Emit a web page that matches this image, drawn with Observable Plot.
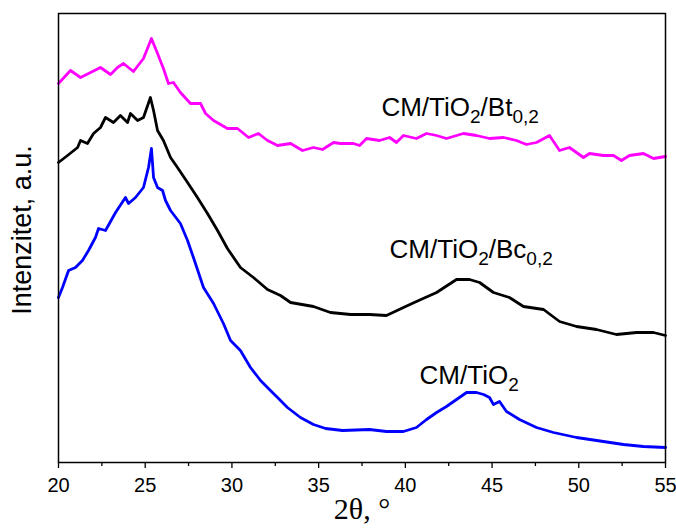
<!DOCTYPE html>
<html>
<head>
<meta charset="utf-8">
<script src="https://cdn.jsdelivr.net/npm/d3@7"></script>
<script src="https://cdn.jsdelivr.net/npm/@observablehq/plot@0.6"></script>
<style>
  html, body { margin: 0; padding: 0; background: #fff; }
  #chart svg { font-family: "Liberation Sans", Arial, sans-serif; }
</style>
</head>
<body>
<div id="chart"></div>
<script>
// ---- Data (2θ in degrees, intensity in arbitrary units) ----
const sampleNames  = ["CM/TiO2/Bt0,2", "CM/TiO2/Bc0,2", "CM/TiO2"];
const sampleColors = ["#ff00ff", "#000000", "#0000ff"];

const btAngle = [20.00,20.69,21.27,21.85,22.42,23.00,23.40,23.75,24.32,24.90,25.36,25.71,26.05,26.34,26.63,27.03,27.61,28.19,28.48,28.94,29.74,30.32,30.96,31.53,32.05,32.63,33.38,34.07,34.70,35.22,35.86,36.26,37.01,37.36,37.76,38.51,39.09,39.49,39.89,40.64,41.22,41.80,42.37,43.35,44.10,44.85,45.66,46.41,46.98,47.56,48.31,48.89,49.46,50.27,50.62,51.42,52.00,52.46,52.92,53.73,54.31,55.00];
const btIntensity = [379,392,385,390,395,388,395,399,391,404,424,409,394,379,380,370,359,359,349,342,334,334,325,329,322,317,319,312,315,313,320,319,319,317,324,322,325,320,327,324,329,327,324,329,327,324,325,322,318,320,327,312,315,305,309,307,307,302,307,309,304,306];

const bcAngle = [20.00,20.52,21.10,21.27,21.67,22.02,22.42,22.71,23.17,23.57,23.98,24.15,24.56,24.90,25.30,25.48,25.71,26.05,26.46,26.86,27.44,28.01,28.59,29.17,29.74,30.49,31.24,32.05,32.80,33.38,34.70,35.68,36.84,37.93,38.91,39.89,40.64,41.80,42.95,43.70,44.28,45.08,46.00,46.81,47.97,48.89,49.87,51.02,52.17,53.33,54.31,55.00];
const bcIntensity = [300,307,315,322,319,329,335,345,340,347,340,349,342,345,365,352,332,322,305,295,280,265,249,232,214,195,185,173,167,160,156,150,148,148,147,155,161,170,183,183,180,170,165,156,153,141,136,133,128,130,130,127];

const tiAngle = [20.00,20.23,20.58,20.98,21.38,21.73,22.13,22.31,22.71,23.29,23.86,24.04,24.44,24.90,25.19,25.36,25.48,25.71,26.00,26.17,26.46,27.03,27.44,27.78,28.36,28.94,29.51,29.92,30.49,31.07,31.65,32.22,32.63,33.20,33.95,34.70,35.40,36.38,37.93,38.91,39.89,40.64,41.22,41.80,42.37,42.95,43.53,44.10,44.51,44.85,45.08,45.43,45.83,46.58,47.56,48.54,49.87,51.42,52.58,53.73,55.00];
const tiIntensity = [165,175,192,195,202,212,225,234,232,250,265,259,265,275,295,314,285,275,272,262,252,239,222,205,175,159,139,122,112,95,82,72,65,55,45,38,34,32,33,31,31,35,43,50,56,63,70,70,68,65,58,61,51,43,35,30,25,21,18,16,15];

// Curve labels (markup: _{...} = subscript) and their anchor positions
const labelTexts  = ["CM/TiO_{2}/Bt_{0,2}", "CM/TiO_{2}/Bc_{0,2}", "CM/TiO_{2}"];
const labelAngle  = [38.62, 39.09, 40.82];
const labelHeight = [355, 213, 87];

const majorTicks = [20, 25, 30, 35, 40, 45, 50, 55];
const minorTicks = [22.5, 27.5, 32.5, 37.5, 42.5, 47.5, 52.5];
const xLabel = "2θ, °";
const yLabel = "Intenzitet, a.u.";

// ---- Build table ----
const series = [
  {name: sampleNames[0], a: btAngle, v: btIntensity},
  {name: sampleNames[1], a: bcAngle, v: bcIntensity},
  {name: sampleNames[2], a: tiAngle, v: tiIntensity}
];
const rows = series.flatMap(s => s.a.map((a, i) => ({sample: s.name, angle: a, intensity: s.v[i]})));
const labels = labelTexts.map((t, i) => ({text: t, angle: labelAngle[i], intensity: labelHeight[i]}));

const chart = Plot.plot({
  width: 676,
  height: 528,
  marginLeft: 58,
  marginRight: 11,
  marginTop: 13,
  marginBottom: 66,
  style: {fontFamily: '"Liberation Sans", Arial, sans-serif', fontSize: "20px", color: "#000", background: "#fff", overflow: "visible"},
  x: {domain: [20, 55]},
  y: {domain: [0, 449], axis: null},
  color: {domain: sampleNames, range: sampleColors},
  marks: [
    Plot.line(rows, {x: "angle", y: "intensity", z: "sample", stroke: "sample", strokeWidth: 2.8, strokeLinejoin: "round"}),
    Plot.frame({stroke: "#000", strokeWidth: 1.5}),
    Plot.axisX(majorTicks, {tickSize: 6, tickPadding: 9, fontSize: 20, label: null, tickFormat: d => String(d), strokeWidth: 1.3}),
    Plot.axisX(minorTicks, {tickSize: 4, text: null, label: null, strokeWidth: 1.3}),
    Plot.text(labels, {x: "angle", y: "intensity", text: "text", textAnchor: "start", lineAnchor: "middle", fontSize: 26, fill: "#000", className: "curve-label"}),
    Plot.text([xLabel], {frameAnchor: "bottom", text: d => d, dy: 56, fontSize: 30, fontFamily: '"Liberation Serif", "Times New Roman", serif', fill: "#000"}),
    Plot.text([yLabel], {frameAnchor: "left", text: d => d, rotate: -90, textAnchor: "middle", dx: -36, dy: -8, fontSize: 27, fill: "#000"})
  ]
});

// Render subscripts in curve labels
d3.select(chart).selectAll("g.curve-label text").each(function() {
  const el = this;
  const raw = el.textContent;
  while (el.firstChild) el.removeChild(el.firstChild);
  const re = /_\{([^}]*)\}/g;
  let last = 0, m, shift = 0;
  const add = (txt, sub) => {
    if (!txt) return;
    const ts = document.createElementNS("http://www.w3.org/2000/svg", "tspan");
    ts.textContent = txt;
    if (sub) { ts.setAttribute("font-size", "19"); ts.setAttribute("dy", 7); shift = 7; }
    else if (shift) { ts.setAttribute("dy", -shift); shift = 0; }
    el.appendChild(ts);
  };
  while ((m = re.exec(raw)) !== null) {
    add(raw.slice(last, m.index), false);
    add(m[1], true);
    last = re.lastIndex;
  }
  add(raw.slice(last), false);
});

document.getElementById("chart").appendChild(chart);
</script>
</body>
</html>
